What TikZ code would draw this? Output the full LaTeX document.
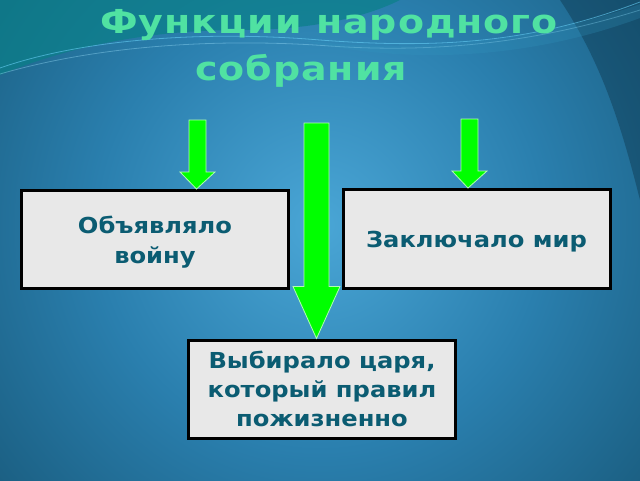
\documentclass[tikz,border=0pt]{standalone}
\usepackage{fontspec}
\setmainfont{DejaVu Sans}
\newfontfamily\titlefont[FakeStretch=1.15,LetterSpace=3]{DejaVu Sans Bold}
\newfontfamily\boxfont[FakeStretch=1.1]{DejaVu Sans Bold}
\usetikzlibrary{calc}
\definecolor{titlegreen}{HTML}{50E2A2}
\definecolor{boxtext}{HTML}{0B5C72}
\definecolor{bgcenter}{HTML}{4AA6D6}
\definecolor{bgmid}{HTML}{2A7FAE}
\definecolor{bgedge}{HTML}{0F4660}
\definecolor{bgcorner}{HTML}{07283A}
\definecolor{arrowgreen}{HTML}{00FF00}
\definecolor{arrowedge}{HTML}{B0FFB0}
\definecolor{boxfill}{HTML}{E8E8E8}
\definecolor{tealtop}{HTML}{0A8088}
\pgfdeclareradialshading{bgshade}{\pgfpoint{0bp}{0bp}}{%
  color(0bp)=(bgcenter); color(12bp)=(bgmid); color(30bp)=(bgedge); color(42bp)=(bgcorner); color(50bp)=(bgcorner)}
\newcommand\blockarr[5]{% tail, tip, half shaft, half head, head length
  \draw[blockarrow] let \p1=(#1), \p2=(#2) in
    (\x1-#3pt,\y1) -- (\x1+#3pt,\y1) -- (\x1+#3pt,\y2+#5pt) -- (\x1+#4pt,\y2+#5pt)
    -- (\x2,\y2) -- (\x1-#4pt,\y2+#5pt) -- (\x1-#3pt,\y2+#5pt) -- cycle;}
\begin{document}
\begin{tikzpicture}[x=1pt,y=-1pt,
  box/.style={draw=black, line width=3pt, fill=boxfill, text=boxtext,
    font=\boxfont\fontsize{22}{30}\selectfont, align=center, inner sep=0pt, text depth=0pt},
  blockarrow/.style={fill=arrowgreen, draw=arrowedge, line width=0.8pt, line join=miter},
  titlestyle/.style={text=titlegreen, font=\titlefont\fontsize{33}{40}\selectfont, inner sep=0pt, anchor=base},
  swoosh/.style={line width=0.8pt}]
\useasboundingbox (0,0) rectangle (640,480);
% background
\begin{scope}
\clip (0,0) rectangle (640,480);
\fill[bgcorner] (0,0) rectangle (640,480);
\shade[shading=bgshade] (320,225) circle (470);
\fill[tealtop, opacity=0.7] (0,0) -- (0,75) .. controls (60,50) and (140,30) .. (240,30)
  .. controls (330,30) and (380,10) .. (400,0) -- cycle;
\fill[bgcorner, opacity=0.35] (560,0) -- (640,0) -- (640,200) .. controls (620,120) and (600,60) .. (560,0);
\draw[swoosh, draw=cyan!60!white, opacity=0.6] (0,68) .. controls (80,40) and (200,30) .. (320,40)
  .. controls (450,50) and (540,40) .. (640,2);
\draw[swoosh, draw=cyan!40!white, opacity=0.4] (0,74) .. controls (100,45) and (220,38) .. (330,46)
  .. controls (460,55) and (560,35) .. (640,10);
\fill[cyan!50!teal, opacity=0.25] (300,40) .. controls (420,55) and (540,40) .. (640,4) -- (640,18)
  .. controls (540,55) and (420,68) .. (300,40);
\end{scope}
% title
\node[titlestyle] (t1) at (329,33) {Функции народного};
\node[titlestyle] (t2) at (301,80) {собрания};
% boxes
\node[box, minimum width=267pt, minimum height=98pt] (war) at (155,239.5) {Объявляло\\войну};
\node[box, minimum width=267pt, minimum height=99pt] (peace) at (476.5,239) {Заключало мир};
\node[box, minimum width=267pt, minimum height=98pt, font=\boxfont\fontsize{22}{29}\selectfont] (tsar) at (322,389) {Выбирало царя,\\который правил\\пожизненно};
% arrows
\coordinate (a1tail) at (197.5,120);
\coordinate (a1tip) at ($(war.north west)+(176.5,0)$);
\coordinate (a2tail) at (316.5,123);
\coordinate (a2tip) at ($(tsar.north west)+(129.5,0)$);
\coordinate (a3tail) at (469.5,119);
\coordinate (a3tip) at ($(peace.north west)+(126.5,0)$);
\blockarr{a1tail}{a1tip}{8.5}{17.5}{17}
\blockarr{a2tail}{a2tip}{12.5}{23.5}{52}
\blockarr{a3tail}{a3tip}{8.5}{17.5}{17}
\end{tikzpicture}
\end{document}
